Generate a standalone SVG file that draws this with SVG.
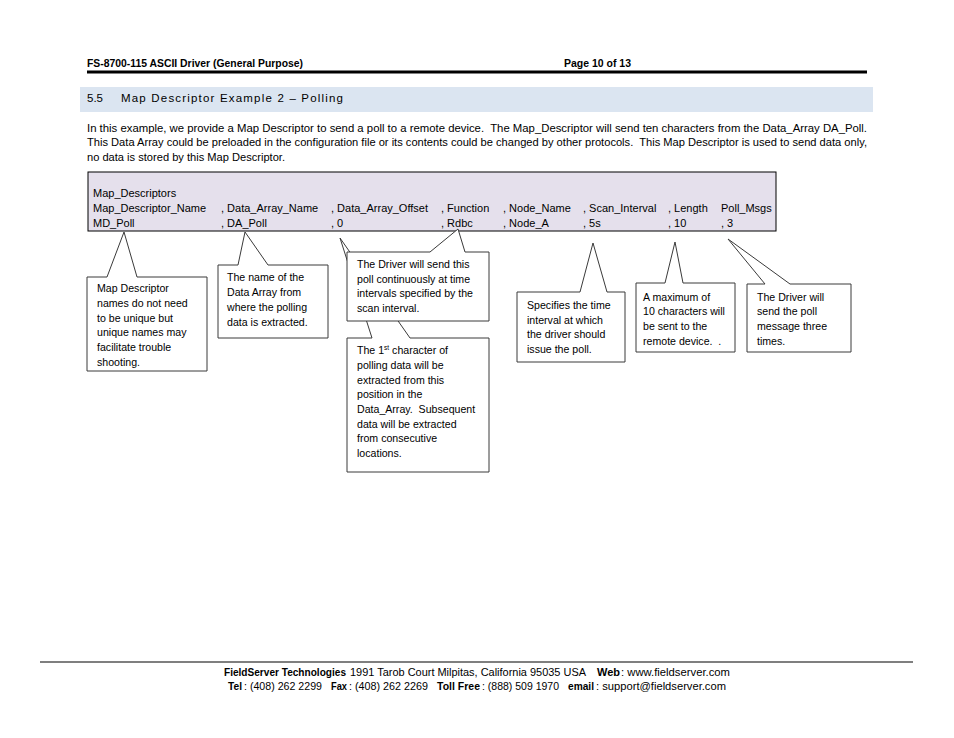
<svg xmlns="http://www.w3.org/2000/svg" width="954" height="738" viewBox="0 0 954 738">
<style>
text{font-family:"Liberation Sans",Arial,sans-serif;fill:#000;white-space:pre}
.h{font-size:11px;font-weight:bold}
.p{font-size:11px}
.t{font-size:11px}
.c{font-size:10.6px}
.f{font-size:11px}
.b{font-weight:bold}
.co{fill:#fff;stroke:#3a3a3a;stroke-width:1}
</style>
<rect width="954" height="738" fill="#fff"/>
<g id="header">
<text class="h" x="87" y="67" textLength="216" lengthAdjust="spacingAndGlyphs">FS-8700-115 ASCII Driver (General Purpose)</text>
<text class="h" x="564" y="67" textLength="67" lengthAdjust="spacingAndGlyphs">Page 10 of 13</text>
<rect x="87" y="70.5" width="780" height="3" fill="#000"/>
</g>
<g id="section">
<rect x="80" y="87" width="793" height="25" fill="#dbe5f1"/>
<text class="p" x="87" y="102" style="font-size:11.5px">5.5</text>
<text class="p" x="121" y="102" style="font-size:11.5px" textLength="222" lengthAdjust="spacing">Map Descriptor Example 2 – Polling</text>
</g>
<g id="paragraph">
<text class="p" x="87" y="132" textLength="780" lengthAdjust="spacingAndGlyphs" xml:space="preserve">In this example, we provide a Map Descriptor to send a poll to a remote device.  The Map_Descriptor will send ten characters from the Data_Array DA_Poll.</text>
<text class="p" x="87" y="146" textLength="780" lengthAdjust="spacingAndGlyphs" xml:space="preserve">This Data Array could be preloaded in the configuration file or its contents could be changed by other protocols.  This Map Descriptor is used to send data only,</text>
<text class="p" x="87" y="161" textLength="198" lengthAdjust="spacingAndGlyphs">no data is stored by this Map Descriptor.</text>
</g>
<g id="connectors"></g>
<g id="table">
<rect x="88" y="172" width="688" height="59" fill="#e5e0ec" stroke="#000" stroke-width="1"/>
<text class="t" x="93" y="197">Map_Descriptors</text>
<text class="t" x="93" y="212">Map_Descriptor_Name</text>
<text class="t" x="221" y="212">, Data_Array_Name</text>
<text class="t" x="331" y="212">, Data_Array_Offset</text>
<text class="t" x="441" y="212">, Function</text>
<text class="t" x="503" y="212">, Node_Name</text>
<text class="t" x="583" y="212">, Scan_Interval</text>
<text class="t" x="668" y="212">, Length</text>
<text class="t" x="721" y="212">Poll_Msgs</text>
<text class="t" x="93" y="227">MD_Poll</text>
<text class="t" x="221" y="227">, DA_Poll</text>
<text class="t" x="331" y="227">, 0</text>
<text class="t" x="441" y="227">, Rdbc</text>
<text class="t" x="503" y="227">, Node_A</text>
<text class="t" x="583" y="227">, 5s</text>
<text class="t" x="668" y="227">, 10</text>
<text class="t" x="721" y="227">, 3</text>
</g>
<g id="callout-name">
<path class="co" d="M87,277 L107,277 L124,232 L137,277 L207,277 L207,371 L87,371 Z"/>
<text class="c" x="97" y="292">Map Descriptor</text>
<text class="c" x="97" y="307">names do not need</text>
<text class="c" x="97" y="322">to be unique but</text>
<text class="c" x="97" y="336">unique names may</text>
<text class="c" x="97" y="351">facilitate trouble</text>
<text class="c" x="97" y="366">shooting.</text>
</g>
<g id="callout-array">
<path class="co" d="M218,265 L238,265 L245,232 L268,265 L328,265 L328,338 L218,338 Z"/>
<text class="c" x="227" y="281">The name of the</text>
<text class="c" x="227" y="296">Data Array from</text>
<text class="c" x="227" y="311">where the polling</text>
<text class="c" x="227" y="326">data is extracted.</text>
</g>
<g id="callout-offset">
<path class="co" d="M347,338 L372,338 L340,238 L410,338 L489,338 L489,472 L347,472 Z"/>
<text class="c" x="357" y="354">The 1<tspan dy="-4" style="font-size:6.5px">st</tspan><tspan dy="4"> character of</tspan></text>
<text class="c" x="357" y="369">polling data will be</text>
<text class="c" x="357" y="384">extracted from this</text>
<text class="c" x="357" y="398">position in the</text>
<text class="c" x="357" y="413" xml:space="preserve">Data_Array.  Subsequent</text>
<text class="c" x="357" y="428">data will be extracted</text>
<text class="c" x="357" y="442">from consecutive</text>
<text class="c" x="357" y="457">locations.</text>
</g>
<g id="callout-function">
<path class="co" d="M347,252 L430,252 L458,229 L465,252 L489,252 L489,321 L347,321 Z"/>
<text class="c" x="357" y="268">The Driver will send this</text>
<text class="c" x="357" y="283">poll continuously at time</text>
<text class="c" x="357" y="297">intervals specified by the</text>
<text class="c" x="357" y="312">scan interval.</text>
</g>
<g id="callout-scan">
<path class="co" d="M517,292 L580,292 L593,243 L607,292 L625,292 L625,362 L517,362 Z"/>
<text class="c" x="527" y="309">Specifies the time</text>
<text class="c" x="527" y="324">interval at which</text>
<text class="c" x="527" y="338">the driver should</text>
<text class="c" x="527" y="353">issue the poll.</text>
</g>
<g id="callout-length">
<path class="co" d="M636,283 L665,283 L675,242 L683,283 L735,283 L735,352 L636,352 Z"/>
<text class="c" x="643" y="301">A maximum of</text>
<text class="c" x="643" y="315">10 characters will</text>
<text class="c" x="643" y="330">be sent to the</text>
<text class="c" x="643" y="345" xml:space="preserve">remote device.  .</text>
</g>
<g id="callout-msgs">
<path class="co" d="M747,284 L765,284 L728,239 L790,284 L851,284 L851,352 L747,352 Z"/>
<text class="c" x="757" y="301">The Driver will</text>
<text class="c" x="757" y="315">send the poll</text>
<text class="c" x="757" y="330">message three</text>
<text class="c" x="757" y="345">times.</text>
</g>
<g id="footer">
<rect x="40" y="661.5" width="873" height="1" fill="#000"/>
<text class="f b" x="224" y="676" textLength="122" lengthAdjust="spacingAndGlyphs">FieldServer Technologies</text>
<text class="f" x="350" y="676" textLength="236" lengthAdjust="spacingAndGlyphs">1991 Tarob Court Milpitas, California 95035 USA</text>
<text class="f b" x="597" y="676" textLength="23" lengthAdjust="spacingAndGlyphs">Web</text>
<text class="f" x="621" y="676" textLength="109" lengthAdjust="spacingAndGlyphs">: www.fieldserver.com</text>
<text class="f b" x="228" y="690" textLength="14" lengthAdjust="spacingAndGlyphs">Tel</text>
<text class="f" x="244" y="690" textLength="78" lengthAdjust="spacingAndGlyphs">: (408) 262 2299</text>
<text class="f b" x="331" y="690" textLength="16" lengthAdjust="spacingAndGlyphs">Fax</text>
<text class="f" x="349" y="690" textLength="79" lengthAdjust="spacingAndGlyphs">: (408) 262 2269</text>
<text class="f b" x="437" y="690" textLength="43" lengthAdjust="spacingAndGlyphs">Toll Free</text>
<text class="f" x="482" y="690" textLength="77" lengthAdjust="spacingAndGlyphs">: (888) 509 1970</text>
<text class="f b" x="568" y="690" textLength="26" lengthAdjust="spacingAndGlyphs">email</text>
<text class="f" x="596" y="690" textLength="130" lengthAdjust="spacingAndGlyphs">: support@fieldserver.com</text>
</g>
</svg>
